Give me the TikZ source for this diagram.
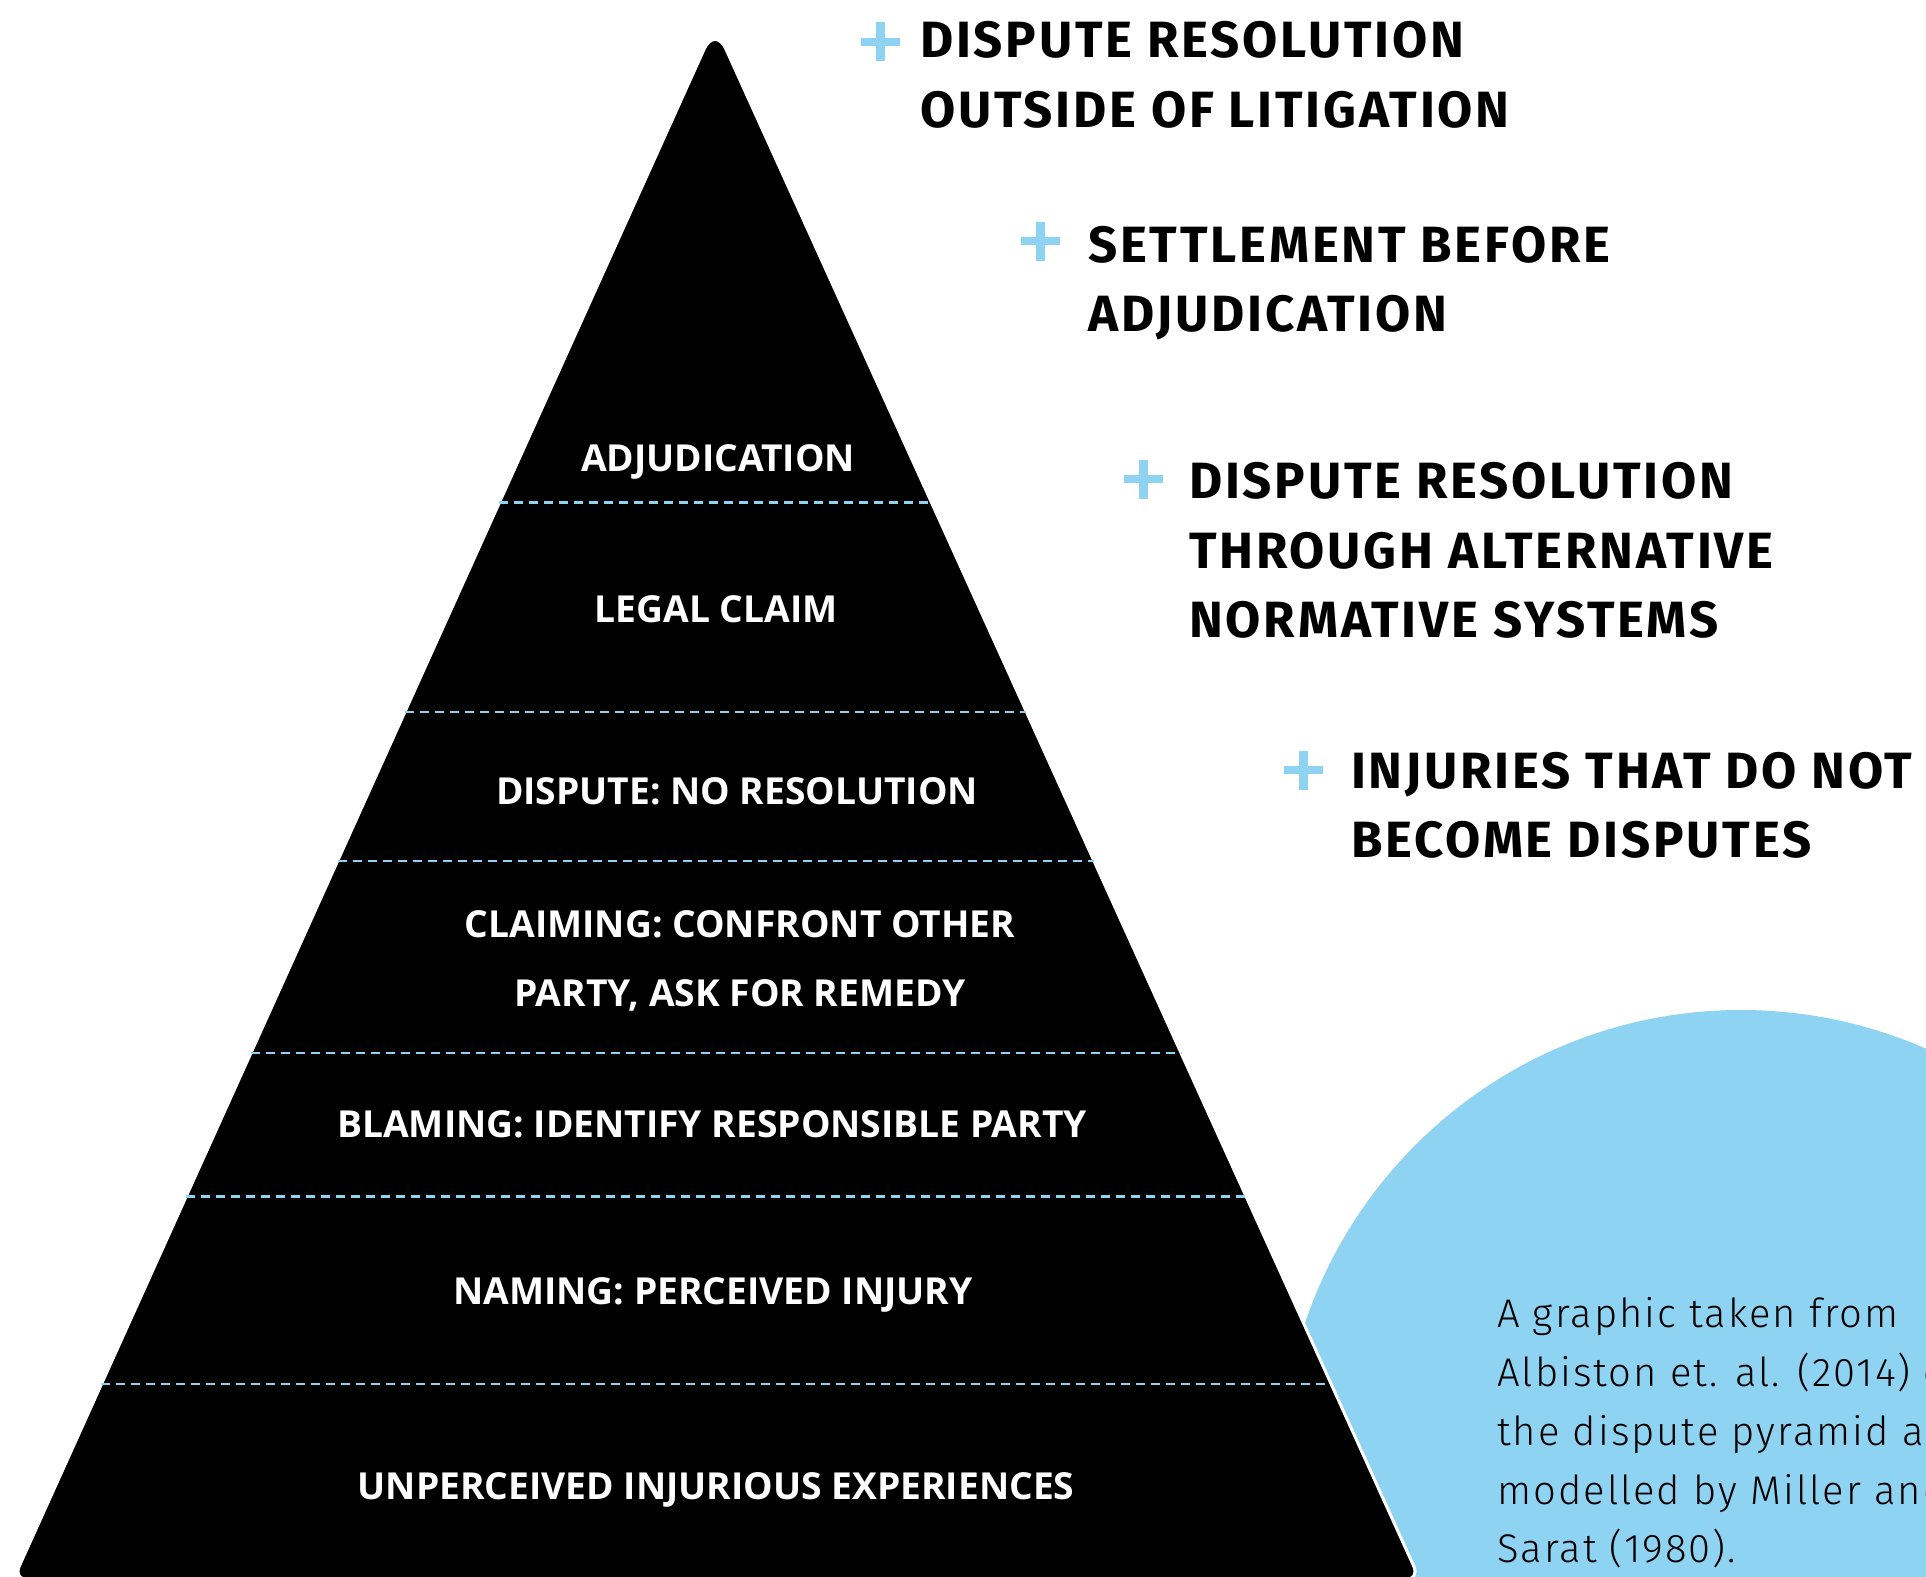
\documentclass[tikz,border=0pt]{standalone}
\usepackage{fontspec}
\usetikzlibrary{calc}
\newfontfamily\headfont{Fira Sans}[LetterSpace=5.5]
\newfontfamily\labfont{Open Sans}
\newfontfamily\capfont{Fira Sans}[UprightFont={* Light}, LetterSpace=5]
\definecolor{skyb}{RGB}{143,211,243}
\tikzset{
  heading/.style={anchor=base west, inner sep=0pt, font=\headfont\bfseries\fontsize{51}{60}\selectfont},
  plab/.style={anchor=base, inner sep=0pt, text=white, font=\labfont\bfseries\fontsize{37.2}{44}\selectfont},
  capt/.style={anchor=base west, inner sep=0pt, font=\capfont\fontsize{40}{47}\selectfont},
  divider/.style={draw=skyb, line width=2.8pt, dash pattern=on 9pt off 6pt},
  plusmark/.style={draw=skyb, line width=8.5pt}
}
\begin{document}
\begin{tikzpicture}[x=1pt,y=-1pt]
\useasboundingbox (0,0) rectangle (1926,1576);
\clip (0,0) rectangle (1926,1576);
% blue circle
\fill[skyb] (1741,1470) circle (460);
% pyramid
\coordinate (apex) at (715,25);
\coordinate (bl) at (13,1580);
\coordinate (br) at (1420,1580);
\path[fill=black, draw=white, line width=3pt] (716,1580) [rounded corners=15pt] -- (br) [rounded corners=27pt] -- (apex) [rounded corners=15pt] -- (bl) -- cycle;
% dividers
\foreach \f/\n in {0.3072/1, 0.4418/2, 0.5376/3, 0.6611/4, 0.7533/5, 0.8740/6} {
  \coordinate (l\n) at ($(apex)!\f!(bl)$);
  \coordinate (r\n) at ($(apex)!\f!(br)$);
  \draw[divider] (l\n) -- (r\n);
}
% pyramid labels
\node[plab] (adj) at (718,471) {ADJUDICATION};
\node[plab] (legal) at (716,622) {LEGAL CLAIM};
\node[plab] (disp) at (737,804) {DISPUTE: NO RESOLUTION};
\node[plab] (claimA) at (740,937) {CLAIMING: CONFRONT OTHER};
\node[plab] (claimB) at (740,1006) {PARTY, ASK FOR REMEDY};
\node[plab] (blame) at (712,1137) {BLAMING: IDENTIFY RESPONSIBLE PARTY};
\node[plab] (naming) at (713,1304) {NAMING: PERCEIVED INJURY};
\node[plab] (unperc) at (716,1499) {UNPERCEIVED INJURIOUS EXPERIENCES};
% plus marks
\draw[plusmark] (880.5,22.5) -- (880.5,61.5) (861,42) -- (900,42);
\draw[plusmark] (1040.5,221.5) -- (1040.5,260.5) (1021,241) -- (1060,241);
\draw[plusmark] (1143.5,459.5) -- (1143.5,498.5) (1124,479) -- (1163,479);
\draw[plusmark] (1303.5,750.5) -- (1303.5,789.5) (1284,770) -- (1323,770);
% headings
\node[heading] (h1a) at (920,58) {DISPUTE RESOLUTION};
\node[heading] (h1b) at (920,128) {OUTSIDE OF LITIGATION};
\node[heading] (h2a) at (1088,262) {SETTLEMENT BEFORE};
\node[heading] (h2b) at (1088,331) {ADJUDICATION};
\node[heading] (h3a) at (1189,498) {DISPUTE RESOLUTION};
\node[heading] (h3b) at (1189,568) {THROUGH ALTERNATIVE};
\node[heading] (h3c) at (1189,637) {NORMATIVE SYSTEMS};
\node[heading] (h4a) at (1351,788) {INJURIES THAT DO NOT};
\node[heading] (h4b) at (1351,857) {BECOME DISPUTES};
% caption
\node[capt] (c1) at (1497,1327) {A graphic taken from};
\node[capt] (c2) at (1497,1386) {Albiston et. al. (2014) of};
\node[capt] (c3) at (1497,1445) {the dispute pyramid as};
\node[capt] (c4) at (1497,1504) {modelled by Miller and};
\node[capt] (c5) at (1497,1562) {Sarat (1980).};
\end{tikzpicture}
\end{document}
